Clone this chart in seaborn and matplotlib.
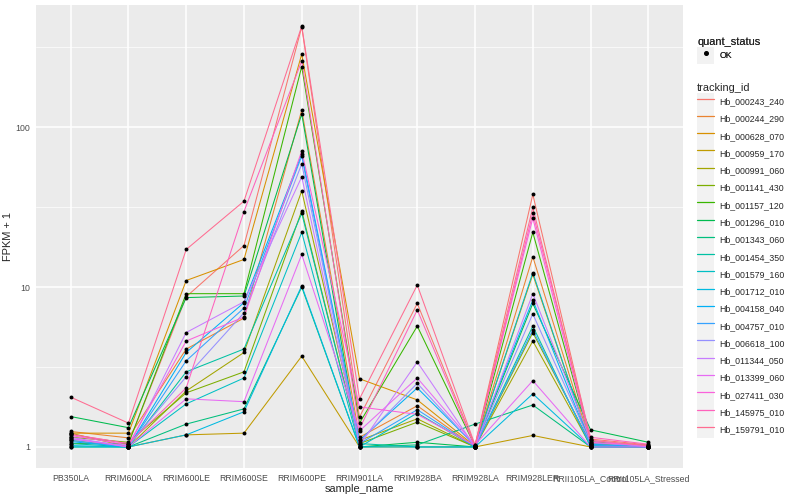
import numpy as np
import pandas as pd
import matplotlib
matplotlib.use("Agg")
import matplotlib.pyplot as plt
import seaborn as sns
from matplotlib.lines import Line2D
from matplotlib.patches import Rectangle
from matplotlib.legend_handler import HandlerLine2D
from matplotlib.ticker import FixedLocator

samples = ['PB350LA', 'RRIM600LA', 'RRIM600LE', 'RRIM600SE', 'RRIM600PE', 'RRIM901LA',
           'RRIM928BA', 'RRIM928LA', 'RRIM928LER', 'RRII105LA_Control', 'RRII105LA_Stressed']

tracking_ids = ['Hb_000243_240', 'Hb_000244_290', 'Hb_000628_070', 'Hb_000959_170',
                'Hb_000991_060', 'Hb_001141_430', 'Hb_001157_120', 'Hb_001296_010',
                'Hb_001343_060', 'Hb_001454_350', 'Hb_001579_160', 'Hb_001712_010',
                'Hb_004158_040', 'Hb_004757_010', 'Hb_006618_100', 'Hb_011344_050',
                'Hb_013399_060', 'Hb_027411_030', 'Hb_145975_010', 'Hb_159791_010']

# FPKM + 1 per sample, one value per tracking_id (same order as above)
PB350LA = [1.2, 1.25, 1.22, 1.22, 1.1, 1.15, 1.05, 1.55, 1.0, 1.05,
           1.0, 1.02, 1.08, 1.1, 1.12, 1.15, 1.13, 1.18, 1.2, 2.05]
RRIM600LA = [1.05, 1.14, 1.22, 1.0, 1.0, 1.07, 1.05, 1.32, 1.0, 1.0,
             1.0, 1.0, 1.0, 1.0, 1.02, 1.0, 1.0, 1.03, 1.05, 1.41]
RRIM600LE = [8.7, 4.1, 11.0, 1.19, 2.24, 2.18, 9.1, 8.6, 1.39, 2.95,
             1.86, 1.19, 3.9, 3.46, 2.75, 5.2, 2.0, 4.6, 2.34, 17.2]
RRIM600SE = [18.2, 6.4, 14.9, 1.22, 3.9, 2.95, 9.1, 8.8, 1.73, 4.1,
             2.7, 1.66, 8.0, 7.4, 6.9, 8.1, 1.92, 6.5, 29.7, 34.5]
RRIM600PE = [425, 128, 287, 3.7, 40, 30, 240, 121, 10.0, 29,
             22, 10.2, 68, 66, 59, 49, 16, 71, 260, 430]
RRIM901LA = [1.54, 1.15, 2.67, 1.0, 1.1, 1.05, 1.41, 1.0, 1.0, 1.05,
             1.0, 1.0, 1.1, 1.05, 1.08, 1.02, 1.26, 1.78, 1.3, 2.0]
RRIM928BA = [7.9, 1.81, 1.97, 1.0, 1.5, 1.43, 5.7, 1.07, 1.03, 1.0,
             1.63, 1.0, 2.34, 1.71, 2.5, 3.4, 2.7, 1.6, 7.2, 10.3]
RRIM928LA = [1.02, 1.0, 1.01, 1.0, 1.0, 1.0, 1.01, 1.0, 1.39, 1.0,
             1.0, 1.0, 1.02, 1.0, 1.01, 1.0, 1.03, 1.02, 1.0, 1.03]
RRIM928LER = [38, 15.5, 12.0, 1.18, 4.6, 5.2, 22, 7.9, 1.83, 5.7,
              12.3, 2.15, 8.3, 5.4, 6.8, 9.1, 2.6, 27, 29, 31.5]
RRII105LA_Control = [1.12, 1.05, 1.03, 1.0, 1.02, 1.05, 1.08, 1.28, 1.0, 1.0,
                     1.02, 1.0, 1.04, 1.03, 1.06, 1.1, 1.0, 1.07, 1.15, 1.1]
RRII105LA_Stressed = [1.03, 1.0, 1.0, 1.0, 1.0, 1.0, 1.02, 1.07, 1.0, 1.0,
                      1.0, 1.0, 1.0, 1.0, 1.01, 1.0, 1.0, 1.02, 1.04, 1.02]

sample_values = [PB350LA, RRIM600LA, RRIM600LE, RRIM600SE, RRIM600PE, RRIM901LA,
                 RRIM928BA, RRIM928LA, RRIM928LER, RRII105LA_Control, RRII105LA_Stressed]

palette = ['#F8766D', '#EA8331', '#D89000', '#C09B00', '#A3A500', '#7CAE00', '#39B600',
           '#00BB4E', '#00BF7D', '#00C1A3', '#00BFC4', '#00BAE0', '#00B0F6', '#35A2FF',
           '#9590FF', '#C77CFF', '#E76BF3', '#FA62DB', '#FF62BC', '#FF6C91']

rows = []
for i, (s, vals) in enumerate(zip(samples, sample_values)):
    for t, v in zip(tracking_ids, vals):
        rows.append({'sample_name': s, 'pos': i, 'tracking_id': t,
                     'fpkm1': v, 'quant_status': 'OK'})
df = pd.DataFrame(rows)

sns.set_theme(style='darkgrid', rc={'axes.facecolor': '#EBEBEB', 'grid.color': 'white',
                                    'figure.facecolor': 'white'})
plt.rcParams['font.family'] = ['Liberation Sans', 'DejaVu Sans']

fig = plt.figure(figsize=(8, 5), dpi=100)
ax = fig.add_axes([36 / 800, 32 / 500, 647 / 800, 463 / 500])

sns.lineplot(data=df, x='pos', y='fpkm1', hue='tracking_id', hue_order=tracking_ids,
             palette=palette, lw=0.75, sort=False, estimator=None, legend=False, ax=ax)
sns.scatterplot(data=df, x='pos', y='fpkm1', color='black', s=8, linewidth=0,
                legend=False, ax=ax, zorder=5)

ax.set_yscale('log')
lo, hi = 0.0, np.log10(430)
pad = 0.05 * (hi - lo)
ax.set_ylim(10 ** (lo - pad), 10 ** (hi + pad))
ax.set_xlim(-0.6, len(samples) - 0.4)

ax.set_yticks([1, 10, 100])
ax.set_yticklabels(['1', '10', '100'])
ax.yaxis.set_minor_locator(FixedLocator([10 ** 0.5, 10 ** 1.5, 10 ** 2.5]))
ax.set_xticks(range(len(samples)))
ax.set_xticklabels(samples)

ax.grid(which='major', color='white', lw=1.1)
ax.grid(which='minor', axis='y', color='white', lw=0.5)
ax.tick_params(which='major', length=2.2, width=0.5, color='#333333',
               labelsize=6.3, labelcolor='#4D4D4D', pad=2)
ax.tick_params(which='minor', length=0)
for sp in ax.spines.values():
    sp.set_visible(False)

ax.set_xlabel('sample_name', fontsize=7.9, labelpad=1)
ax.set_ylabel('FPKM + 1', fontsize=7.9)
ax.yaxis.set_label_coords(-23 / 647, 0.5)


class KeyHandler(HandlerLine2D):
    def create_artists(self, legend, orig_handle, xdescent, ydescent, width, height,
                       fontsize, trans):
        bg = Rectangle((-xdescent, -ydescent), width, height, facecolor='#F2F2F2',
                       edgecolor='none', transform=trans)
        arts = super().create_artists(legend, orig_handle, xdescent, ydescent, width,
                                      height, fontsize, trans)
        return [bg] + list(arts)


leg_kw = dict(loc='upper left', frameon=False, fontsize=6.3,
              title_fontproperties={'size': 7.9, 'weight': 'normal'},
              handlelength=1.98, handleheight=2.66, labelspacing=0.0, handletextpad=0.6,
              borderpad=0, borderaxespad=0, alignment='left', numpoints=1)

ok_handle = [Line2D([], [], marker='o', linestyle='None', color='black', markersize=2.6)]
leg1 = fig.legend(ok_handle, ['OK'], title='quant_status', bbox_to_anchor=(697 / 800, 1 - 37 / 500),
                  handler_map={Line2D: KeyHandler()}, **leg_kw)

line_handles = [Line2D([], [], color=c, lw=0.9) for c in palette]
leg2 = fig.legend(line_handles, tracking_ids, title='tracking_id',
                  bbox_to_anchor=(697 / 800, 1 - 83 / 500),
                  handler_map={Line2D: KeyHandler()}, **leg_kw)
fig.add_artist(leg1)

fig.savefig('out.png', dpi=100)
